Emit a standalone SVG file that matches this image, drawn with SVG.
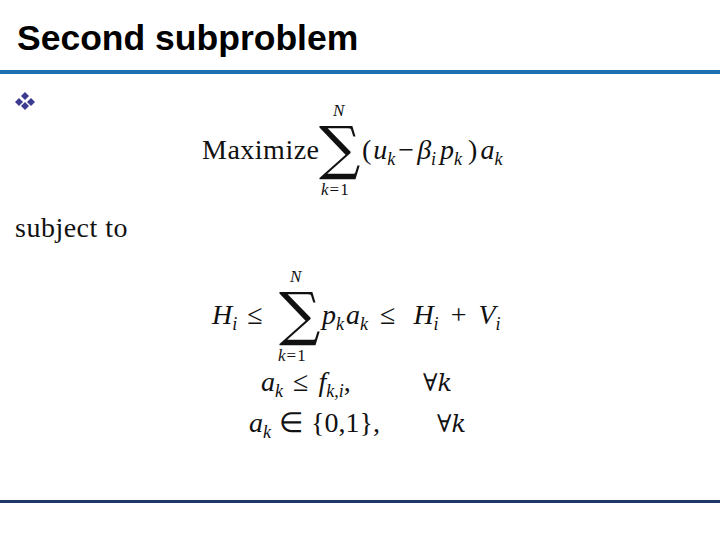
<svg xmlns="http://www.w3.org/2000/svg" width="720" height="540" viewBox="0 0 720 540">
<style>
.t{font-family:"Liberation Sans",Arial,sans-serif;font-weight:bold;font-size:35.5px;fill:#000}
.m{font-family:"Liberation Serif","Times New Roman",serif;font-size:28px;fill:#111}
.i{font-style:italic}
.s{font-size:17px;letter-spacing:1px}
.big{font-family:"DejaVu Serif",serif;font-size:58px}
</style>
<rect width="720" height="540" fill="#fff"/>
<text class="t" x="17" y="50">Second subproblem</text>
<rect x="0" y="70" width="720" height="4" fill="#1a6fb0"/>
<rect x="0" y="500" width="720" height="3" fill="#1f3a6a"/>
<g id="bullet" fill="#3b3b8f">
<path d="M25,92 l4,4 -4,4 -4,-4z"/><path d="M19,98 l4,4 -4,4 -4,-4z"/><path d="M31,98 l4,4 -4,4 -4,-4z"/><path d="M25,102 l4,4 -4,4 -4,-4z"/>
</g>
<g id="objective" class="m">
<text x="202" y="159" letter-spacing="0.5">Maximize</text>
<text class="big" x="319" y="168">∑</text>
<text class="i s" x="333" y="116">N</text>
<text class="s" x="321" y="195"><tspan class="i">k</tspan>=1</text>
<text x="362" y="159">(<tspan class="i" dx="2">u</tspan><tspan class="i" font-size="18" dy="6">k</tspan><tspan dy="-6" dx="3">−</tspan><tspan class="i" dx="3">β</tspan><tspan class="i" font-size="18" dy="6">i</tspan><tspan class="i" dy="-6" dx="4">p</tspan><tspan class="i" font-size="18" dy="6">k</tspan><tspan dy="-6" dx="6">)</tspan><tspan class="i" dx="3">a</tspan><tspan class="i" font-size="18" dy="6">k</tspan></text>
</g>
<text class="m" x="15" y="237" font-size="29" letter-spacing="0.5">subject to</text>
<g id="constraints" class="m">
<text x="212" y="324"><tspan class="i">H</tspan><tspan class="i" font-size="18" dy="6">i</tspan><tspan dy="-6" dx="10">≤</tspan></text>
<text class="big" x="279" y="334">∑</text>
<text class="i s" x="290" y="282">N</text>
<text class="s" x="278" y="361"><tspan class="i">k</tspan>=1</text>
<text x="322" y="324"><tspan class="i">p</tspan><tspan class="i" font-size="18" dy="6">k</tspan><tspan class="i" dy="-6" dx="2">a</tspan><tspan class="i" font-size="18" dy="6">k</tspan><tspan dy="-6" dx="12">≤</tspan><tspan dx="18" class="i">H</tspan><tspan class="i" font-size="18" dy="6">i</tspan><tspan dy="-6" dx="12">+</tspan><tspan dx="12" class="i">V</tspan><tspan class="i" font-size="18" dy="6">i</tspan></text>
<text x="261" y="391"><tspan class="i">a</tspan><tspan class="i" font-size="18" dy="6">k</tspan><tspan dy="-6" dx="10">≤</tspan><tspan dx="10" class="i">f</tspan><tspan class="i" font-size="18" dy="6">k,i</tspan><tspan dy="-6">,</tspan></text>
<text x="423" y="391" font-family="DejaVu Serif" font-size="24">∀<tspan class="i">k</tspan></text>
<text x="249" y="432"><tspan class="i">a</tspan><tspan class="i" font-size="18" dy="6">k</tspan><tspan dy="-6" dx="8">∈</tspan><tspan dx="8">{0,1},</tspan></text>
<text x="437" y="432" font-family="DejaVu Serif" font-size="24">∀<tspan class="i">k</tspan></text>
</g>
</svg>
